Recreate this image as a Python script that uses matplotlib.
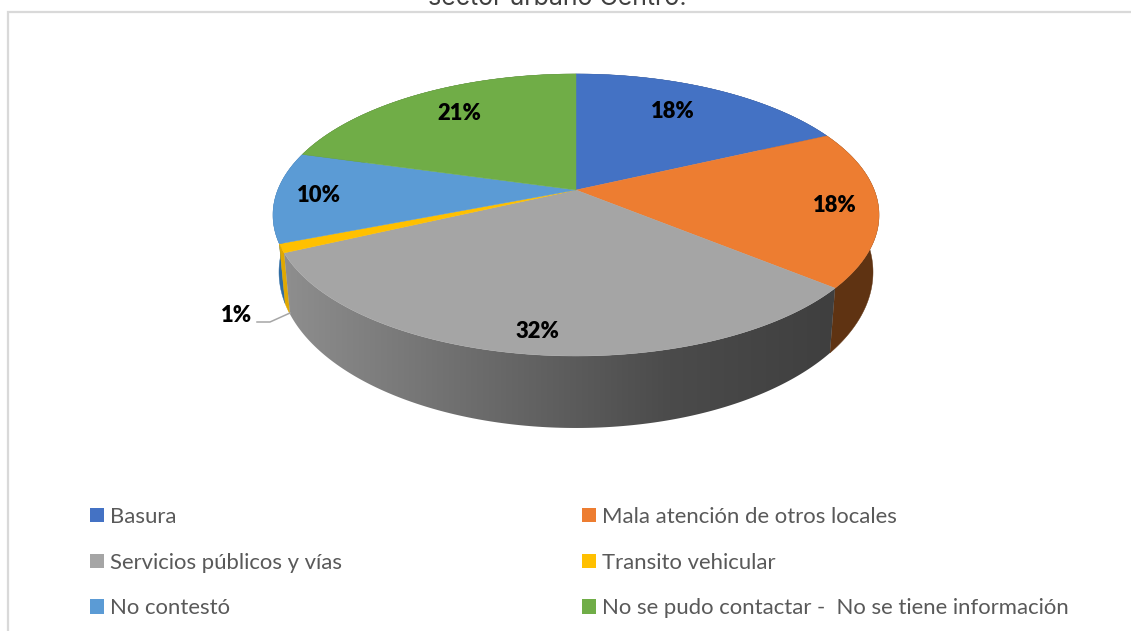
import numpy as np
import matplotlib
matplotlib.use("Agg")
import matplotlib.pyplot as plt
from matplotlib.patches import Polygon, Patch
from matplotlib.colors import LinearSegmentedColormap

categories = ["Basura", "Mala atención de otros locales", "Servicios públicos y vías",
              "Transito vehicular", "No contestó", "No se pudo contactar -  No se tiene información"]
values = [18.0, 18.0, 32.0, 1.0, 10.4, 20.6]
colors = ["#4472C4", "#ED7D31", "#A5A5A5", "#FFC000", "#5B9BD5", "#70AD47"]
wall_colors = ["#2A4578", "#5F3312", None, "#E0A800", "#2F6CA3", "#44692A"]

W, H = 1131, 631
fig = plt.figure(figsize=(W / 100, H / 100), dpi=100, facecolor="white")
ax = fig.add_axes([0, 0, 1, 1])
ax.set_xlim(0, W)
ax.set_ylim(H, 0)
ax.axis("off")

# perspective projection of the pie disc
CX, K = 576.0, 50 / 282
TOP = dict(A=298.2, p=-102.9, q=190.0)
BOT = dict(A=292.3, p=-107.6, q=244.5)


def project(frac, g):
    th = 2 * np.pi * np.asarray(frac)
    u, v = np.sin(th), np.cos(th)
    d = 1 + K * v
    return np.column_stack([CX + g["A"] * u / d, (g["p"] * v + g["q"]) / d])


cum = np.concatenate([[0], np.cumsum(values)]) / sum(values)
apex = np.array([CX, TOP["q"]])

# outer walls, far slices first
mids = (cum[:-1] + cum[1:]) / 2
for i in np.argsort(-np.cos(2 * np.pi * mids)):
    t = np.linspace(cum[i], cum[i + 1], 160)
    poly = np.vstack([project(t, TOP), project(t[::-1], BOT)])
    if wall_colors[i] is None:
        cmap = LinearSegmentedColormap.from_list(
            "wall", [(0, "#8E8E8E"), (0.35, "#6C6C6C"), (0.7, "#4B4B4B"), (1, "#3F3F3F")])
        clip = Polygon(poly, closed=True, fc="none", ec="none", transform=ax.transData)
        ax.add_patch(clip)
        im = ax.imshow(np.linspace(0, 1, 256)[None, :], cmap=cmap, aspect="auto",
                       extent=(poly[:, 0].min(), poly[:, 0].max(), poly[:, 1].max(), poly[:, 1].min()),
                       zorder=2)
        im.set_clip_path(clip)
    else:
        ax.add_patch(Polygon(poly, closed=True, fc=wall_colors[i], ec=wall_colors[i], lw=0.3, zorder=2))
ax.set_xlim(0, W)
ax.set_ylim(H, 0)

# top face
for i in range(len(values)):
    t = np.linspace(cum[i], cum[i + 1], 200)
    poly = np.vstack([apex, project(t, TOP)])
    ax.add_patch(Polygon(poly, closed=True, fc=colors[i], ec=colors[i], lw=0.3, zorder=3))

# data labels
label_xy = [(673, 111), (835, 205), (537, 331), (236, 315), (319, 195), (459, 113)]
for v, (x, y) in zip(values, label_xy):
    ax.text(x, y, f"{round(v)}%", ha="center", va="center", fontsize=15.8,
            fontweight="heavy", family="Lato", color="black", zorder=5)
ax.plot([257, 270, 290], [322, 322, 313], color="#A6A6A6", lw=1.1, zorder=4)

# chart frame, open at right and bottom edges of the crop
ax.plot([7.5, 7.5, W], [H, 11.5, 11.5], color="#D9D9D9", lw=1.6, zorder=1, solid_joinstyle="miter")

# title, cut by the top of the picture
ax.text(557, 5, "sector urbano Centro.", ha="center", va="baseline", fontsize=18,
        family="Inter", color="#404040")

# legend
order = [0, 2, 4, 1, 3, 5]
handles = [Patch(fc=colors[i], ec="none", label=categories[i]) for i in order]
ax.legend(handles=handles, ncols=2, loc="upper left", bbox_to_anchor=(90, 507),
          bbox_transform=ax.transData, frameon=False, prop={"family": "Lato", "size": 15.9},
          labelcolor="#595959", borderpad=0, borderaxespad=0, handlelength=0.63,
          handleheight=0.63, handletextpad=0.27, columnspacing=10.87, labelspacing=1.16)

fig.savefig("out.png", dpi=100, facecolor="white")
